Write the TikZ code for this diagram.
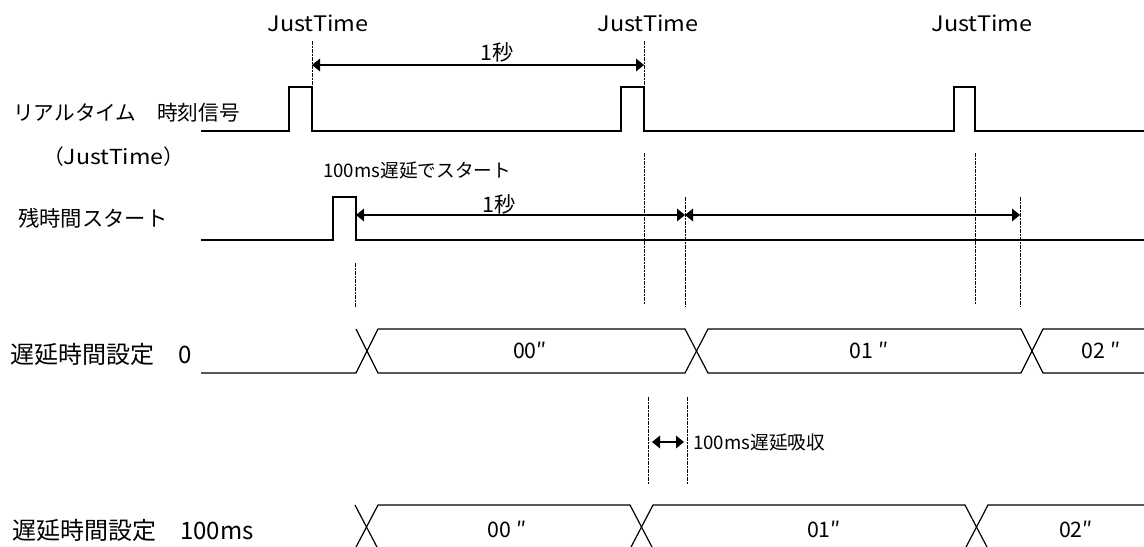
\documentclass[tikz,border=0pt]{standalone}
\usepackage{fontspec}
\setmainfont{Noto Sans CJK JP}
\usetikzlibrary{arrows.meta}
\begin{document}
\begin{tikzpicture}[x=0.75pt,y=-0.75pt,
  sig/.style={line width=0.9pt, line join=miter},
  guide/.style={line width=0.5pt, dash pattern=on 3pt off 1pt on 1pt off 1pt},
  dim/.style={line width=0.9pt, {Triangle[length=6pt,width=9.5pt]}-{Triangle[length=6pt,width=9.5pt]}},
  lbl/.style={font=\fontsize{15.5}{18}\selectfont, inner sep=0pt, anchor=west},
  lblw/.style={font=\fontsize{18}{20}\selectfont, inner sep=0pt, anchor=west},
  big/.style={font=\fontsize{16}{18}\selectfont, inner sep=0pt},
  small/.style={font=\fontsize{14}{16}\selectfont, inner sep=0pt}]
\useasboundingbox (0,0) rectangle (1144,546);
\clip (0,0) rectangle (1144,546);
% ---- labels on the left
\node[lbl] (l1) at (13,113) {リアルタイム　時刻信号};
\node[lbl] (l1b) at (43,157) {（\scalebox{1.12}[1]{JustTime}）};
\node[lbl, font=\fontsize{16}{18}\selectfont] (l2) at (18,218) {残時間スタート};
\node[lblw] (l3) at (10,354) {遅延時間設定　0};
\node[lblw] (l4) at (12,530) {遅延時間設定　100ms};
% ---- JustTime marks
\node[big] (jt1) at (318,23) {\scalebox{1.1}[1]{JustTime}};
\node[big] (jt2) at (648,23) {\scalebox{1.1}[1]{JustTime}};
\node[big] (jt3) at (982,23) {\scalebox{1.1}[1]{JustTime}};
% ---- row 1 : real time signal
\draw[sig] (201,131) -| (289,87) -| (312,131) -| (621,87) -| (644,131) -| (954,87) -| (975,131) -- (1144,131);
% ---- row 2 : remaining time start
\draw[sig] (201,240) -| (333,197) -| (356,240) -- (1144,240);
% ---- row 3 : delay 0
\draw[sig] (201,373) -- (356,373) -- (378,329) -- (685,329) -- (708,373) -- (1021,373) -- (1043,329) -- (1144,329);
\draw[sig] (356,329) -- (378,373) -- (685,373) -- (708,329) -- (1021,329) -- (1043,373) -- (1144,373);
% ---- row 4 : delay 100ms
\draw[sig] (201,549) -- (355,549) -- (378,505) -- (630,505) -- (653,549) -- (965,549) -- (988,505) -- (1144,505);
\draw[sig] (355,505) -- (378,549) -- (630,549) -- (653,505) -- (965,505) -- (988,549) -- (1144,549);
% ---- guide coordinates
\coordinate (g1a) at (312,41);  \coordinate (g1b) at (312,87);
\coordinate (g2a) at (644,41);  \coordinate (g2b) at (644,87);
\coordinate (g3a) at (644,153); \coordinate (g3b) at (644,305);
\coordinate (g4a) at (975,153); \coordinate (g4b) at (975,305);
\coordinate (g5a) at (355,263); \coordinate (g5b) at (355,308);
\coordinate (g6a) at (685,197); \coordinate (g6b) at (685,307);
\coordinate (g7a) at (1020,197);\coordinate (g7b) at (1020,307);
\coordinate (g8a) at (648,397); \coordinate (g8b) at (648,485);
\coordinate (g9a) at (687,397); \coordinate (g9b) at (687,485);
\foreach \g in {1,...,9} {\draw[guide] (g\g a) -- (g\g b);}
% ---- interval arrows
\coordinate (a1) at (312,65);  \coordinate (a2) at (644,65);
\coordinate (b1) at (356,215); \coordinate (b2) at (685,215); \coordinate (b3) at (1020,215);
\coordinate (c1) at (652,442); \coordinate (c2) at (684,442);
\draw[dim] (a1) -- (a2);
\draw[dim] (b1) -- (b2);
\draw[dim] (b2) -- (b3);
\draw[dim] (c1) -- (c2);
\node[big] (s1) at (497,52) {1秒};
\node[big] (s2) at (499,204) {1秒};
\node[small, anchor=west] (d1) at (323,170) {100ms遅延でスタート};
\node[small, anchor=west] (d2) at (693,442) {100ms遅延吸収};
% ---- values
\node[big] (v1) at (530,350) {00″};
\node[big] (v2) at (869,350) {01 ″};
\node[big] (v3) at (1101,350) {02 ″};
\node[big] (w1) at (507,529) {00 ″};
\node[big] (w2) at (824,529) {01″};
\node[big] (w3) at (1076,529) {02″};
\end{tikzpicture}
\end{document}
